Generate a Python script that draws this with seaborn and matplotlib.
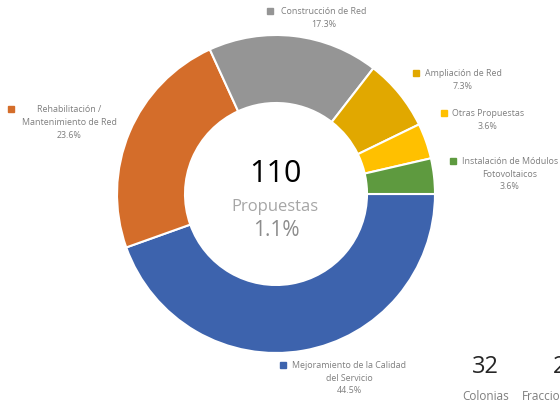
import matplotlib
matplotlib.use("Agg")
import matplotlib.pyplot as plt
import seaborn as sns

# --- data ---
categories = [
    "Mejoramiento de la Calidad\ndel Servicio",
    "Rehabilitación /\nMantenimiento de Red",
    "Construcción de Red",
    "Ampliación de Red",
    "Otras Propuestas",
    "Instalación de Módulos\nFotovoltaicos",
]
shares = [44.5, 23.6, 17.3, 7.3, 3.6, 3.6]
colors = ["#3D63AD", "#D46D2A", "#959595", "#E1A800", "#FFC000", "#5E9A3F"]

total_label = "110"
total_caption = "Propuestas"
total_share = "1.1%"
side_numbers = ["32", "2"]
side_captions = ["Colonias", "Fracciones"]

# label anchors in pixels (x centre of text, y of first line, marker x)
label_pos = [
    (349, 366, 282.5),
    (69, 110, 11),
    (324, 12, 270),
    (463, 74, 415.5),
    (488, 114, 444),
    (510, 162, 452.5),
]

W, H = 560, 402
sns.set_theme(style="white")
plt.rcParams["font.family"] = ["Open Sans", "DejaVu Sans"]

fig = plt.figure(figsize=(W / 100, H / 100), dpi=100)
ax = fig.add_axes([0, 0, 1, 1])

ax.pie(shares, colors=colors, startangle=0, counterclock=False,
       center=(276, H - 195), radius=159,
       wedgeprops=dict(width=68, edgecolor="white", linewidth=1.5))
ax.set_xlim(0, W)
ax.set_ylim(0, H)
ax.set_aspect("equal")
ax.axis("off")


def put(x, y, s, **kw):
    ax.text(x, H - y, s, ha=kw.pop("ha", "center"), va="center", **kw)


grey = "#7F7F7F"
pitch = 12.5
for name, pct, col, (cx, y1, mx) in zip(categories, shares, colors, label_pos):
    lines = name.split("\n") + [f"{pct:.1f}%"]
    for i, line in enumerate(lines):
        put(cx, y1 + i * pitch, line, fontsize=6.4, color=grey)
    ax.plot(mx, H - y1, marker="s", markersize=4.3, color=col, linestyle="none")

# centre of the donut
put(275, 174, total_label, fontsize=22, color="black")
put(275, 207, total_caption, fontsize=12, color="#A6A6A6")
put(276, 231, total_share, fontsize=15, color="#8C8C8C")

# summary numbers bottom right (partly cut off by the frame)
put(485, 367, side_numbers[0], fontsize=17, color="#262626")
put(486, 397, side_captions[0], fontsize=8.5, color=grey)
put(553, 367, side_numbers[1], fontsize=17, color="#262626", ha="left")
put(522, 397, side_captions[1], fontsize=8.5, color=grey, ha="left")

fig.savefig("out.png", dpi=100)
